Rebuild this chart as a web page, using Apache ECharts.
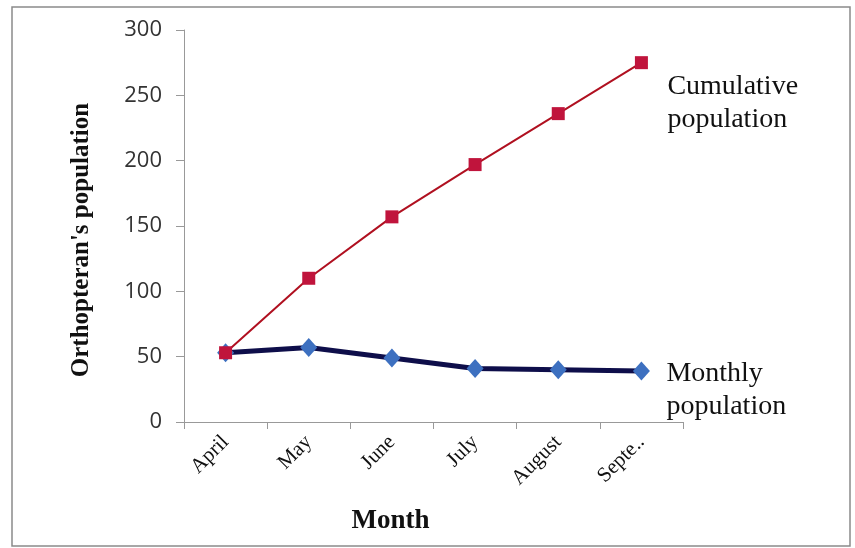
<!DOCTYPE html>
<html>
<head>
<meta charset="utf-8">
<script src="https://cdn.jsdelivr.net/npm/echarts@6/dist/echarts.min.js"></script>
<style>html,body{margin:0;padding:0;background:#fff}#c{width:855px;height:548px}</style>
</head>
<body>
<div id="c"></div>
<script>
var months = ['April', 'May', 'June', 'July', 'August', 'Septe..'];
var monthly = [53, 57, 49, 41, 40, 39];
var cumulative = [53, 110, 157, 197, 236, 275];
var yTicks = [0, 50, 100, 150, 200, 250, 300];

var chart = echarts.init(document.getElementById('c'));
var serif = '"Liberation Serif", "Times New Roman", serif';
chart.setOption({
  backgroundColor: '#ffffff',
  animation: false,
  graphic: [{
    type: 'rect', shape: { x: 12, y: 7, width: 838, height: 539 },
    style: { fill: 'none', stroke: '#8a8a8a', lineWidth: 1.5 }, silent: true
  }],
  grid: { left: 184, right: 172, top: 30, bottom: 126 },
  xAxis: {
    type: 'category',
    data: months,
    boundaryGap: true,
    name: 'Month',
    nameLocation: 'middle',
    nameGap: 86,
    nameTextStyle: { fontFamily: serif, fontWeight: 'bold', fontSize: 27, color: '#111', padding: [0, 86, 0, 0] },
    axisLine: { lineStyle: { color: '#999', width: 1 } },
    axisTick: { show: true, length: 7, alignWithLabel: false, lineStyle: { color: '#999' } },
    axisLabel: { rotate: 45, fontFamily: serif, fontSize: 21, color: '#111', margin: 17, interval: 0 }
  },
  yAxis: {
    type: 'value',
    min: yTicks[0], max: yTicks[yTicks.length - 1], interval: 50,
    name: "Orthopteran's population",
    nameLocation: 'middle',
    nameGap: 90,
    nameTextStyle: { fontFamily: serif, fontWeight: 'bold', fontSize: 25, color: '#111', padding: [0, 28, 0, 0] },
    axisLine: { show: true, lineStyle: { color: '#999', width: 1 } },
    axisTick: { show: true, length: 8, lineStyle: { color: '#999' } },
    axisLabel: { fontFamily: '"Open Sans", "Noto Sans", sans-serif', fontSize: 22, color: '#333', margin: 22 },
    splitLine: { show: false }
  },
  series: [{
    name: 'Monthly population',
    type: 'line',
    data: monthly,
    symbol: 'diamond',
    symbolSize: [17, 19],
    lineStyle: { color: '#0e0e4a', width: 5 },
    itemStyle: { color: '#3d70c0' },
    endLabel: {
      show: true, formatter: 'Monthly\npopulation', distance: 25, offset: [0, 19],
      fontFamily: serif, fontSize: 28, lineHeight: 33, color: '#111', align: 'left'
    },
    z: 2
  }, {
    name: 'Cumulative population',
    type: 'line',
    data: cumulative,
    symbol: 'rect',
    symbolSize: 13,
    lineStyle: { color: '#b01020', width: 2 },
    itemStyle: { color: '#c0143c' },
    endLabel: {
      show: true, formatter: 'Cumulative\npopulation', distance: 26, offset: [0, 40],
      fontFamily: serif, fontSize: 28, lineHeight: 33, color: '#111', align: 'left'
    },
    z: 3
  }]
});
</script>
</body>
</html>
